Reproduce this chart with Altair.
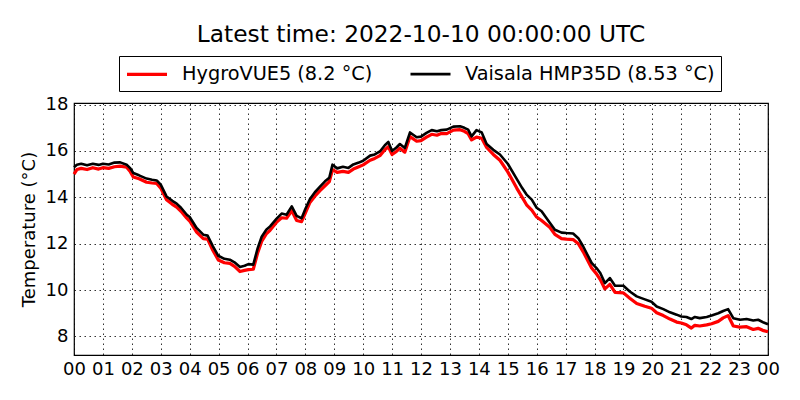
import altair as alt
import pandas as pd

hours = [0.00, 0.10, 0.25, 0.45, 0.65, 0.85, 1.00, 1.20, 1.40, 1.60, 1.82, 1.95,
         2.05, 2.25, 2.51, 2.70, 2.86, 3.00, 3.20, 3.40, 3.55, 3.70, 3.90, 4.00,
         4.24, 4.47, 4.62, 4.80, 4.99, 5.20, 5.39, 5.55, 5.74, 5.90, 6.03, 6.20,
         6.35, 6.49, 6.65, 6.78, 7.00, 7.18, 7.35, 7.53, 7.70, 7.87, 8.00, 8.16,
         8.33, 8.50, 8.68, 8.83, 8.94, 9.10, 9.30, 9.49, 9.66, 9.85, 10.00, 10.24,
         10.40, 10.58, 10.75, 10.87, 11.00, 11.15, 11.27, 11.44, 11.62, 11.85, 12.00, 12.19,
         12.37, 12.55, 12.70, 12.89, 13.12, 13.35, 13.50, 13.63, 13.75, 13.92, 14.10, 14.27,
         14.50, 14.73, 15.00, 15.31, 15.50, 15.65, 15.83, 16.00, 16.17, 16.46, 16.63, 16.86,
         17.03, 17.26, 17.44, 17.61, 17.90, 18.07, 18.20, 18.36, 18.53, 18.71, 19.00, 19.22,
         19.46, 19.74, 19.97, 20.15, 20.38, 20.61, 20.84, 21.00, 21.18, 21.35, 21.47, 21.64,
         21.88, 22.05, 22.28, 22.45, 22.62, 22.80, 23.03, 23.26, 23.49, 23.66, 23.85, 24.00]

vaisala = [15.30, 15.41, 15.45, 15.38, 15.45, 15.40, 15.45, 15.42, 15.50, 15.51, 15.41, 15.25,
           15.05, 14.95, 14.81, 14.76, 14.73, 14.55, 14.04, 13.85, 13.73, 13.55, 13.25, 13.15,
           12.68, 12.39, 12.35, 11.90, 11.48, 11.35, 11.31, 11.20, 11.00, 11.05, 11.12, 11.10,
           11.80, 12.30, 12.60, 12.75, 13.07, 13.30, 13.25, 13.61, 13.20, 13.10, 13.50, 13.93,
           14.22, 14.45, 14.69, 14.85, 15.41, 15.25, 15.32, 15.27, 15.42, 15.50, 15.58, 15.80,
           15.85, 15.98, 16.25, 16.39, 16.00, 16.15, 16.30, 16.13, 16.80, 16.59, 16.62, 16.78,
           16.90, 16.85, 16.90, 16.92, 17.05, 17.07, 17.00, 16.92, 16.63, 16.90, 16.80, 16.30,
           16.05, 15.85, 15.45, 14.80, 14.40, 14.12, 13.90, 13.55, 13.40, 12.89, 12.60, 12.48,
           12.46, 12.44, 12.24, 11.88, 11.17, 10.95, 10.74, 10.30, 10.52, 10.19, 10.19, 9.94,
           9.73, 9.60, 9.50, 9.29, 9.18, 9.04, 8.94, 8.86, 8.84, 8.75, 8.84, 8.79,
           8.84, 8.90, 9.00, 9.10, 9.18, 8.79, 8.72, 8.75, 8.69, 8.72, 8.60, 8.53]

hygrovue = [15.00, 15.20, 15.25, 15.20, 15.28, 15.22, 15.28, 15.25, 15.32, 15.35, 15.30, 15.10,
            14.88, 14.80, 14.65, 14.62, 14.60, 14.40, 13.90, 13.70, 13.58, 13.40, 13.10, 12.98,
            12.50, 12.22, 12.20, 11.72, 11.30, 11.18, 11.15, 11.02, 10.80, 10.85, 10.88, 10.90,
            11.60, 12.10, 12.42, 12.58, 12.92, 13.12, 13.10, 13.42, 13.00, 12.95, 13.32, 13.78,
            14.05, 14.28, 14.50, 14.68, 15.20, 15.08, 15.12, 15.08, 15.22, 15.32, 15.40, 15.60,
            15.68, 15.80, 16.05, 16.18, 15.85, 15.98, 16.12, 15.95, 16.62, 16.42, 16.45, 16.60,
            16.72, 16.68, 16.75, 16.75, 16.90, 16.92, 16.85, 16.75, 16.48, 16.60, 16.55, 16.15,
            15.85, 15.60, 15.10, 14.40, 14.00, 13.68, 13.45, 13.15, 13.00, 12.70, 12.40, 12.22,
            12.20, 12.18, 12.00, 11.65, 10.95, 10.70, 10.45, 10.05, 10.25, 9.90, 9.88, 9.65,
            9.42, 9.30, 9.22, 9.02, 8.90, 8.75, 8.62, 8.58, 8.50, 8.36, 8.48, 8.45,
            8.50, 8.55, 8.65, 8.80, 8.90, 8.45, 8.40, 8.42, 8.30, 8.35, 8.25, 8.20]

name_red = "HygroVUE5 (8.2 °C)"
name_black = "Vaisala HMP35D (8.53 °C)"
series_names = [name_red, name_black]
series_colors = ["#ff0000", "#000000"]
series_widths = [3.2, 2.6]

x_ticks = list(range(25))
y_ticks = [8, 10, 12, 14, 16, 18]
title_text = "Latest time: 2022-10-10 00:00:00 UTC"

df = pd.concat([
    pd.DataFrame({"hour": hours, "temp": hygrovue, "series": name_red}),
    pd.DataFrame({"hour": hours, "temp": vaisala, "series": name_black}),
], ignore_index=True)

FONT = "DejaVu Sans"

chart = alt.Chart(df).mark_line(strokeJoin="round").encode(
    x=alt.X("hour:Q",
            scale=alt.Scale(domain=[0, 24], nice=False, zero=False),
            axis=alt.Axis(values=x_ticks, title=None, labelOverlap=False, labelFlush=False,
                          labelExpr="(datum.value % 24 < 10 ? '0' : '') + (datum.value % 24)")),
    y=alt.Y("temp:Q",
            scale=alt.Scale(domain=[7.2, 18.07], nice=False, zero=False),
            axis=alt.Axis(values=y_ticks, title="Temperature (°C)", format="d",
                          labelOverlap=False, labelFlush=False)),
    color=alt.Color("series:N",
                    scale=alt.Scale(domain=series_names, range=series_colors),
                    legend=alt.Legend(title=None, orient="none", legendX=45, legendY=-47,
                                      direction="horizontal", symbolType="M-1,0H3",
                                      symbolSize=400, symbolStrokeWidth=3,
                                      labelFontSize=19.3, labelFont=FONT, labelColor="black",
                                      labelLimit=400,
                                      strokeColor="black", padding=6, columnPadding=32,
                                      labelOffset=33)),
    strokeWidth=alt.StrokeWidth("series:N",
                                scale=alt.Scale(domain=series_names, range=series_widths),
                                legend=None),
    order=alt.Order("series:N"),
).properties(
    width=694,
    height=252,
    title=alt.TitleParams(title_text, fontSize=23.3, font=FONT, fontWeight="normal",
                          anchor="middle", color="black", offset=8),
    autosize=alt.AutoSizeParams(type="none"),
    padding={"left": 66, "top": 95, "right": 24, "bottom": 37},
).configure_view(
    stroke="black", strokeWidth=1.2
).configure_axis(
    labelFont=FONT, labelFontSize=18, labelColor="black",
    titleFont=FONT, titleFontSize=18, titleFontWeight="normal", titleColor="black",
    grid=True, gridColor="black", gridDash=[1.5, 3.5], gridWidth=1, gridOpacity=0.8,
    domain=False, ticks=False,
).configure_axisX(
    labelPadding=5
).configure_axisY(
    labelPadding=6, titlePadding=7
)

chart.save("out.html", embed_options={"renderer": "svg", "actions": False})
